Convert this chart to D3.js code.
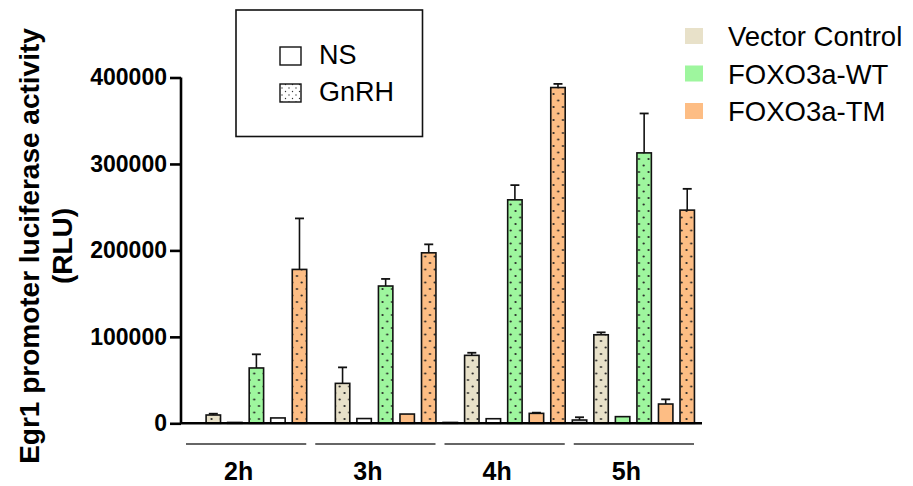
<!DOCTYPE html>
<html><head><meta charset="utf-8">
<script src="https://cdn.jsdelivr.net/npm/d3@7/dist/d3.min.js"></script>
<style>body{margin:0;background:#fff}svg{display:block}text{font-family:Arial,"Liberation Sans",sans-serif}</style>
</head><body>
<svg id="c" width="913" height="486"></svg>
<script>
// ---- data ----
const times = ["2h", "3h", "4h", "5h"];
const series = ["Vector Control", "FOXO3a-WT", "FOXO3a-TM"];
const treatments = ["NS", "GnRH"];
const yTicks = [0, 100000, 200000, 300000, 400000];

const vectorNS        = [0, 0, 1000, 3800];
const vectorNSErr     = [0, 0, 0, 3200];
const vectorGnRH      = [9600, 46200, 78600, 102400];
const vectorGnRHErr   = [1500, 18500, 3000, 2800];
const wtNS            = [1000, 5500, 5300, 7700];
const wtNSErr         = [0, 0, 0, 0];
const wtGnRH          = [64000, 158800, 258500, 312800];
const wtGnRHErr       = [15800, 8200, 17000, 45600];
const tmNS            = [6200, 10700, 11500, 22300];
const tmNSErr         = [0, 0, 800, 5400];
const tmGnRH          = [178000, 197200, 388400, 246600];
const tmGnRHErr       = [59000, 9800, 4200, 24600];

const values = {
  "Vector Control": {NS: [vectorNS, vectorNSErr], GnRH: [vectorGnRH, vectorGnRHErr]},
  "FOXO3a-WT": {NS: [wtNS, wtNSErr], GnRH: [wtGnRH, wtGnRHErr]},
  "FOXO3a-TM": {NS: [tmNS, tmNSErr], GnRH: [tmGnRH, tmGnRHErr]}
};

// ---- styles ----
const colors = {"Vector Control": "#e8e1c9", "FOXO3a-WT": "#9ef69e", "FOXO3a-TM": "#fdbd84"};
// NS bars that appear unfilled / grey in the original figure
const nsFillOverride = {"2h|FOXO3a-TM": "#ffffff", "3h|FOXO3a-WT": "#ffffff", "4h|FOXO3a-WT": "#ffffff",
                        "2h|FOXO3a-WT": "#888888", "4h|Vector Control": "#bbbbbb", "5h|Vector Control": "#cccccc"};

const svg = d3.select("#c");
const defs = svg.append("defs");
const key = s => s.replace(/[^A-Za-z0-9]/g, "");
series.forEach(s => {
  const p = defs.append("pattern").attr("id", "dots" + key(s)).attr("patternUnits", "userSpaceOnUse")
    .attr("width", 9.5).attr("height", 13);
  p.append("rect").attr("width", 9.5).attr("height", 13).attr("fill", colors[s]);
  p.append("circle").attr("cx", 2.5).attr("cy", 3).attr("r", 1.1).attr("fill", "#222");
  p.append("circle").attr("cx", 7.2).attr("cy", 9.5).attr("r", 1.1).attr("fill", "#222");
});
{
  const p = defs.append("pattern").attr("id", "dotsLegend").attr("patternUnits", "userSpaceOnUse")
    .attr("width", 7).attr("height", 7);
  p.append("rect").attr("width", 7).attr("height", 7).attr("fill", "#fff");
  p.append("circle").attr("cx", 2).attr("cy", 2).attr("r", 0.7).attr("fill", "#333");
  p.append("circle").attr("cx", 5.5).attr("cy", 5.5).attr("r", 0.7).attr("fill", "#333");
}

// ---- scales ----
const x0 = d3.scaleBand().domain(times).range([181, 698]).paddingInner(0).paddingOuter(0);
const subKeys = [];
series.forEach(s => treatments.forEach(t => subKeys.push(s + "|" + t)));
const x1 = d3.scaleBand().domain(subKeys).range([0, x0.bandwidth()]).paddingInner(0.33).paddingOuter(0.165);
const y = d3.scaleLinear().domain([0, 400000]).range([423.3, 77.5]);

const bars = [];
times.forEach((tm, i) => series.forEach(s => treatments.forEach(t => {
  bars.push({time: tm, s, t, v: values[s][t][0][i], e: values[s][t][1][i]});
})));

const g = svg.append("g");
const bx = d => x0(d.time) + x1(d.s + "|" + d.t);
const bw = x1.bandwidth();

// error bars (upper only)
const eb = g.selectAll("g.err").data(bars.filter(d => d.e > 0)).join("g").attr("class", "err");
eb.append("line").attr("x1", d => bx(d) + bw / 2).attr("x2", d => bx(d) + bw / 2)
  .attr("y1", d => y(d.v)).attr("y2", d => y(d.v + d.e)).attr("stroke", "#111").attr("stroke-width", 1.6);
eb.append("line").attr("x1", d => bx(d) + bw / 2 - 4.5).attr("x2", d => bx(d) + bw / 2 + 4.5)
  .attr("y1", d => y(d.v + d.e)).attr("y2", d => y(d.v + d.e)).attr("stroke", "#111").attr("stroke-width", 1.8);

// bars
g.selectAll("rect.bar").data(bars.filter(d => d.v > 0)).join("rect").attr("class", "bar")
  .attr("x", d => bx(d)).attr("width", bw)
  .attr("y", d => y(d.v)).attr("height", d => y(0) - y(d.v))
  .attr("fill", d => d.t === "GnRH" ? "url(#dots" + key(d.s) + ")" : (nsFillOverride[d.time + "|" + d.s] || colors[d.s]))
  .attr("stroke", "#111").attr("stroke-width", 1.6);

// y axis
const yAxis = svg.append("g").attr("transform", "translate(181,0)")
  .call(d3.axisLeft(y).tickValues(yTicks).tickFormat(d3.format("d")).tickSize(11).tickPadding(3));
yAxis.select(".domain").attr("d", "M0," + y(400000) + "V" + y(0)).attr("stroke", "#000").attr("stroke-width", 2.6);
yAxis.selectAll(".tick line").attr("stroke", "#000").attr("stroke-width", 2.6);
yAxis.selectAll(".tick text").attr("fill", "#000").style("font-size", "23px").style("font-weight", "bold")
  .style("font-family", "Arial, 'Liberation Sans', sans-serif");

// x baseline
svg.append("line").attr("x1", 180).attr("x2", 702).attr("y1", y(0)).attr("y2", y(0))
  .attr("stroke", "#000").attr("stroke-width", 2.6);

// group lines and labels
const gl = svg.append("g").selectAll("g").data(times).join("g");
gl.append("line").attr("x1", d => x0(d) + 5).attr("x2", d => x0(d) + x0.bandwidth() - 4)
  .attr("y1", 444).attr("y2", 444).attr("stroke", "#333").attr("stroke-width", 1.6);
gl.append("text").attr("x", d => x0(d) + x0.bandwidth() / 2 - 7).attr("y", 480).attr("text-anchor", "middle")
  .style("font-size", "25px").style("font-weight", "bold").text(d => d);

// y title
const yt = svg.append("text").attr("transform", "translate(0,246) rotate(-90)").attr("text-anchor", "middle")
  .style("font-size", "28px").style("font-weight", "bold");
yt.append("tspan").attr("x", 0).attr("y", 39).text("Egr1 promoter luciferase activity");
yt.append("tspan").attr("x", 0).attr("y", 72).text("(RLU)");

// treatment legend box
svg.append("rect").attr("x", 236).attr("y", 10).attr("width", 186.5).attr("height", 126.5)
  .attr("fill", "none").attr("stroke", "#111").attr("stroke-width", 1.6);
const tl = svg.append("g").selectAll("g").data(treatments).join("g")
  .attr("transform", (d, i) => "translate(0," + (i * 37) + ")");
tl.append("rect").attr("x", 280).attr("y", 47).attr("width", 21).attr("height", 18)
  .attr("fill", d => d === "NS" ? "#fff" : "url(#dotsLegend)").attr("stroke", "#111").attr("stroke-width", 1.4);
tl.append("text").attr("x", 319).attr("y", 64).style("font-size", "27px").text(d => d);

// series legend
const sl = svg.append("g").selectAll("g").data(series).join("g")
  .attr("transform", (d, i) => "translate(0," + (i * 37.5) + ")");
sl.append("rect").attr("x", 685).attr("y", 28).attr("width", 18).attr("height", 16).attr("fill", d => colors[d]);
sl.append("text").attr("x", 728).attr("y", 46).style("font-size", "27.5px").text(d => d);
</script>
</body></html>
